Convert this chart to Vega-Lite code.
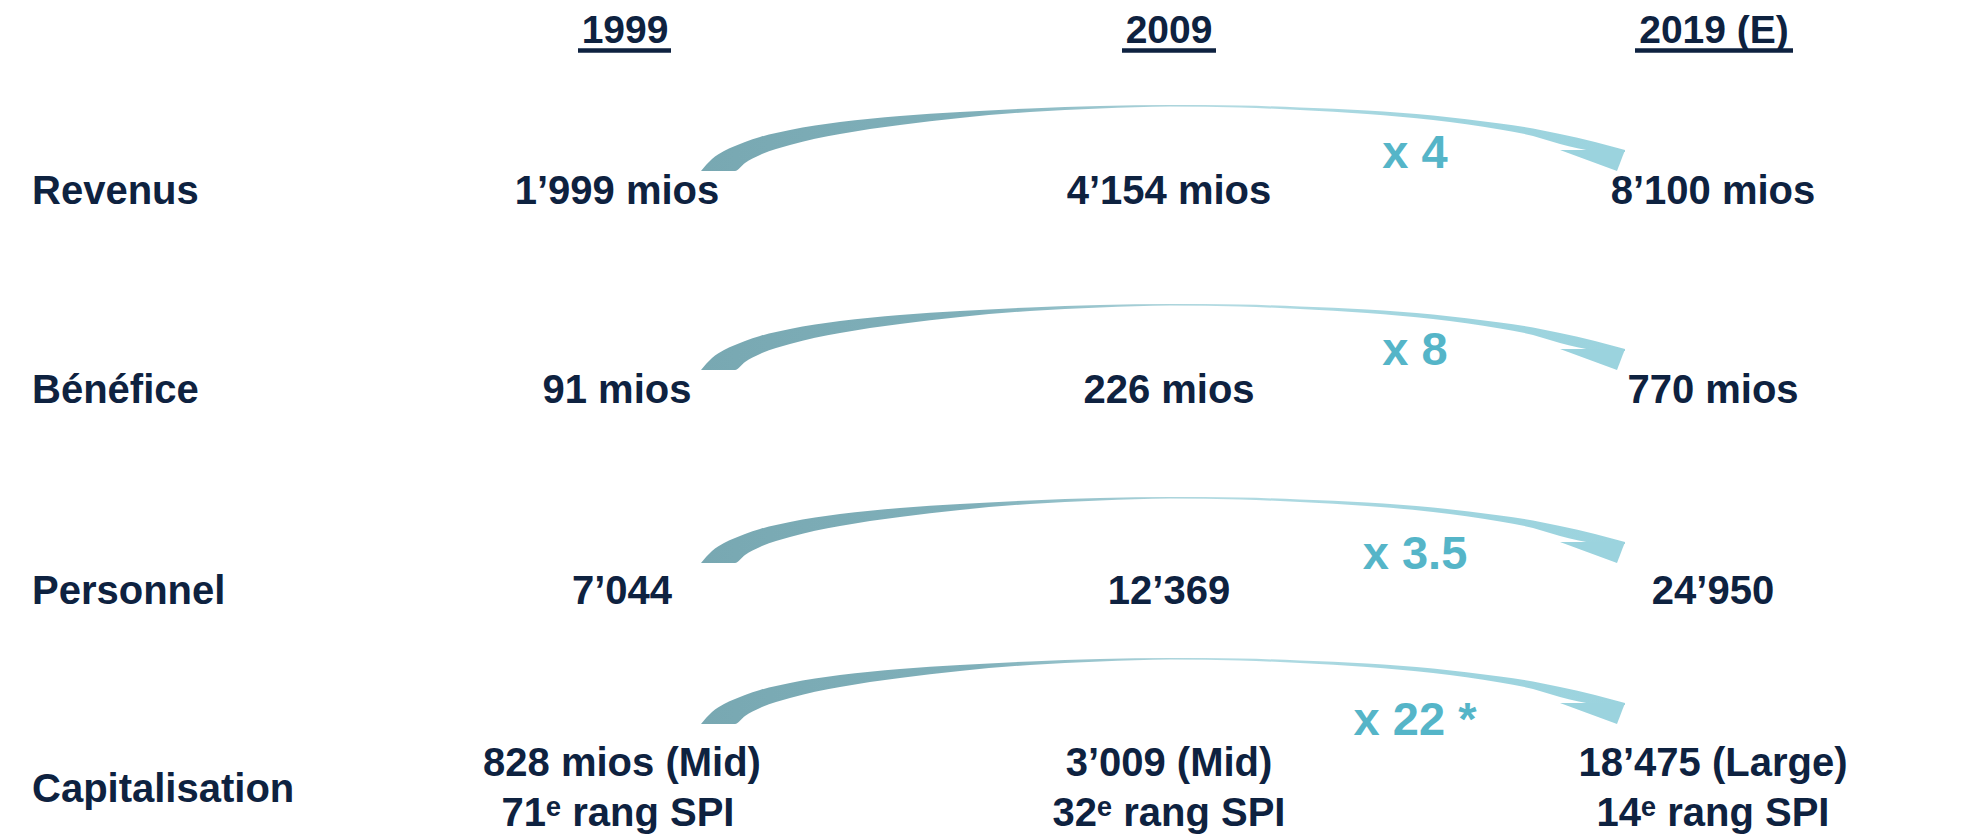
{
  "$schema": "https://vega.github.io/schema/vega-lite/v6.json",
  "width": 1986,
  "height": 834,
  "padding": 0,
  "autosize": {"type": "none"},
  "background": "white",
  "config": {"view": {"stroke": null}},
  "datasets": {
    "headers": [
      {"year": "1999", "x": 625, "y": 43, "u1": 578, "u2": 671, "uy": 50.5},
      {"year": "2009", "x": 1169, "y": 43, "u1": 1122, "u2": 1216, "uy": 50.5},
      {"year": "2019 (E)", "x": 1714, "y": 43, "u1": 1635, "u2": 1793, "uy": 50.5}
    ],
    "labels": [
      {"label": "Revenus", "x": 32, "y": 204},
      {"label": "Bénéfice", "x": 32, "y": 403},
      {"label": "Personnel", "x": 32, "y": 604},
      {"label": "Capitalisation", "x": 32, "y": 802}
    ],
    "values": [
      {"metric": "Revenus", "year": "1999", "text": "1’999 mios", "x": 617, "y": 204},
      {"metric": "Revenus", "year": "2009", "text": "4’154 mios", "x": 1169, "y": 204},
      {"metric": "Revenus", "year": "2019 (E)", "text": "8’100 mios", "x": 1713, "y": 204},
      {"metric": "Bénéfice", "year": "1999", "text": "91 mios", "x": 617, "y": 403},
      {"metric": "Bénéfice", "year": "2009", "text": "226 mios", "x": 1169, "y": 403},
      {"metric": "Bénéfice", "year": "2019 (E)", "text": "770 mios", "x": 1713, "y": 403},
      {"metric": "Personnel", "year": "1999", "text": "7’044", "x": 622, "y": 604},
      {"metric": "Personnel", "year": "2009", "text": "12’369", "x": 1169, "y": 604},
      {"metric": "Personnel", "year": "2019 (E)", "text": "24’950", "x": 1713, "y": 604},
      {"metric": "Capitalisation", "year": "1999", "text": "828 mios (Mid)", "x": 622, "y": 776},
      {"metric": "Capitalisation", "year": "2009", "text": "3’009 (Mid)", "x": 1169, "y": 776},
      {"metric": "Capitalisation", "year": "2019 (E)", "text": "18’475 (Large)", "x": 1713, "y": 776},
      {"metric": "Capitalisation", "year": "1999", "text": "71ᵉ rang SPI", "x": 618, "y": 826},
      {"metric": "Capitalisation", "year": "2009", "text": "32ᵉ rang SPI", "x": 1169, "y": 826},
      {"metric": "Capitalisation", "year": "2019 (E)", "text": "14ᵉ rang SPI", "x": 1713, "y": 826}
    ],
    "multipliers": [
      {"metric": "Revenus", "text": "x 4", "x": 1415, "y": 168},
      {"metric": "Bénéfice", "text": "x 8", "x": 1415, "y": 365},
      {"metric": "Personnel", "text": "x 3.5", "x": 1415, "y": 569},
      {"metric": "Capitalisation", "text": "x 22 *", "x": 1415, "y": 735}
    ],
    "shaft": [
      {"arrow": "Revenus", "x": 701, "top": 171, "bot": 171},
      {"arrow": "Revenus", "x": 712, "top": 159, "bot": 171},
      {"arrow": "Revenus", "x": 724, "top": 151, "bot": 171},
      {"arrow": "Revenus", "x": 735, "top": 146, "bot": 171},
      {"arrow": "Revenus", "x": 745, "top": 142, "bot": 163},
      {"arrow": "Revenus", "x": 760, "top": 137, "bot": 155},
      {"arrow": "Revenus", "x": 790, "top": 130, "bot": 145},
      {"arrow": "Revenus", "x": 840, "top": 122, "bot": 134},
      {"arrow": "Revenus", "x": 900, "top": 116, "bot": 125},
      {"arrow": "Revenus", "x": 960, "top": 112, "bot": 118},
      {"arrow": "Revenus", "x": 1030, "top": 108.5, "bot": 112},
      {"arrow": "Revenus", "x": 1100, "top": 106, "bot": 108.5},
      {"arrow": "Revenus", "x": 1170, "top": 105, "bot": 106.5},
      {"arrow": "Revenus", "x": 1240, "top": 105.5, "bot": 107.5},
      {"arrow": "Revenus", "x": 1300, "top": 107.5, "bot": 110},
      {"arrow": "Revenus", "x": 1367, "top": 110.5, "bot": 114},
      {"arrow": "Revenus", "x": 1433, "top": 115.5, "bot": 120},
      {"arrow": "Revenus", "x": 1500, "top": 123.5, "bot": 129.5},
      {"arrow": "Revenus", "x": 1533, "top": 128.5, "bot": 136},
      {"arrow": "Revenus", "x": 1560, "top": 134, "bot": 144},
      {"arrow": "Revenus", "x": 1595, "top": 142, "bot": 151},
      {"arrow": "Revenus", "x": 1625, "top": 150, "bot": 152},
      {"arrow": "Bénéfice", "x": 701, "top": 370, "bot": 370},
      {"arrow": "Bénéfice", "x": 712, "top": 358, "bot": 370},
      {"arrow": "Bénéfice", "x": 724, "top": 350, "bot": 370},
      {"arrow": "Bénéfice", "x": 735, "top": 345, "bot": 370},
      {"arrow": "Bénéfice", "x": 745, "top": 341, "bot": 362},
      {"arrow": "Bénéfice", "x": 760, "top": 336, "bot": 354},
      {"arrow": "Bénéfice", "x": 790, "top": 329, "bot": 344},
      {"arrow": "Bénéfice", "x": 840, "top": 321, "bot": 333},
      {"arrow": "Bénéfice", "x": 900, "top": 315, "bot": 324},
      {"arrow": "Bénéfice", "x": 960, "top": 311, "bot": 317},
      {"arrow": "Bénéfice", "x": 1030, "top": 307.5, "bot": 311},
      {"arrow": "Bénéfice", "x": 1100, "top": 305, "bot": 307.5},
      {"arrow": "Bénéfice", "x": 1170, "top": 304, "bot": 305.5},
      {"arrow": "Bénéfice", "x": 1240, "top": 304.5, "bot": 306.5},
      {"arrow": "Bénéfice", "x": 1300, "top": 306.5, "bot": 309},
      {"arrow": "Bénéfice", "x": 1367, "top": 309.5, "bot": 313},
      {"arrow": "Bénéfice", "x": 1433, "top": 314.5, "bot": 319},
      {"arrow": "Bénéfice", "x": 1500, "top": 322.5, "bot": 328.5},
      {"arrow": "Bénéfice", "x": 1533, "top": 327.5, "bot": 335},
      {"arrow": "Bénéfice", "x": 1560, "top": 333, "bot": 343},
      {"arrow": "Bénéfice", "x": 1595, "top": 341, "bot": 350},
      {"arrow": "Bénéfice", "x": 1625, "top": 349, "bot": 351},
      {"arrow": "Personnel", "x": 701, "top": 563, "bot": 563},
      {"arrow": "Personnel", "x": 712, "top": 551, "bot": 563},
      {"arrow": "Personnel", "x": 724, "top": 543, "bot": 563},
      {"arrow": "Personnel", "x": 735, "top": 538, "bot": 563},
      {"arrow": "Personnel", "x": 745, "top": 534, "bot": 555},
      {"arrow": "Personnel", "x": 760, "top": 529, "bot": 547},
      {"arrow": "Personnel", "x": 790, "top": 522, "bot": 537},
      {"arrow": "Personnel", "x": 840, "top": 514, "bot": 526},
      {"arrow": "Personnel", "x": 900, "top": 508, "bot": 517},
      {"arrow": "Personnel", "x": 960, "top": 504, "bot": 510},
      {"arrow": "Personnel", "x": 1030, "top": 500.5, "bot": 504},
      {"arrow": "Personnel", "x": 1100, "top": 498, "bot": 500.5},
      {"arrow": "Personnel", "x": 1170, "top": 497, "bot": 498.5},
      {"arrow": "Personnel", "x": 1240, "top": 497.5, "bot": 499.5},
      {"arrow": "Personnel", "x": 1300, "top": 499.5, "bot": 502},
      {"arrow": "Personnel", "x": 1367, "top": 502.5, "bot": 506},
      {"arrow": "Personnel", "x": 1433, "top": 507.5, "bot": 512},
      {"arrow": "Personnel", "x": 1500, "top": 515.5, "bot": 521.5},
      {"arrow": "Personnel", "x": 1533, "top": 520.5, "bot": 528},
      {"arrow": "Personnel", "x": 1560, "top": 526, "bot": 536},
      {"arrow": "Personnel", "x": 1595, "top": 534, "bot": 543},
      {"arrow": "Personnel", "x": 1625, "top": 542, "bot": 544},
      {"arrow": "Capitalisation", "x": 701, "top": 724, "bot": 724},
      {"arrow": "Capitalisation", "x": 712, "top": 712, "bot": 724},
      {"arrow": "Capitalisation", "x": 724, "top": 704, "bot": 724},
      {"arrow": "Capitalisation", "x": 735, "top": 699, "bot": 724},
      {"arrow": "Capitalisation", "x": 745, "top": 695, "bot": 716},
      {"arrow": "Capitalisation", "x": 760, "top": 690, "bot": 708},
      {"arrow": "Capitalisation", "x": 790, "top": 683, "bot": 698},
      {"arrow": "Capitalisation", "x": 840, "top": 675, "bot": 687},
      {"arrow": "Capitalisation", "x": 900, "top": 669, "bot": 678},
      {"arrow": "Capitalisation", "x": 960, "top": 665, "bot": 671},
      {"arrow": "Capitalisation", "x": 1030, "top": 661.5, "bot": 665},
      {"arrow": "Capitalisation", "x": 1100, "top": 659, "bot": 661.5},
      {"arrow": "Capitalisation", "x": 1170, "top": 658, "bot": 659.5},
      {"arrow": "Capitalisation", "x": 1240, "top": 658.5, "bot": 660.5},
      {"arrow": "Capitalisation", "x": 1300, "top": 660.5, "bot": 663},
      {"arrow": "Capitalisation", "x": 1367, "top": 663.5, "bot": 667},
      {"arrow": "Capitalisation", "x": 1433, "top": 668.5, "bot": 673},
      {"arrow": "Capitalisation", "x": 1500, "top": 676.5, "bot": 682.5},
      {"arrow": "Capitalisation", "x": 1533, "top": 681.5, "bot": 689},
      {"arrow": "Capitalisation", "x": 1560, "top": 687, "bot": 697},
      {"arrow": "Capitalisation", "x": 1595, "top": 695, "bot": 704},
      {"arrow": "Capitalisation", "x": 1625, "top": 703, "bot": 705}
    ],
    "head": [
      {"arrow": "Revenus", "x": 1560, "top": 150, "bot": 150},
      {"arrow": "Revenus", "x": 1617, "top": 150, "bot": 171},
      {"arrow": "Revenus", "x": 1625, "top": 150, "bot": 150},
      {"arrow": "Bénéfice", "x": 1560, "top": 349, "bot": 349},
      {"arrow": "Bénéfice", "x": 1617, "top": 349, "bot": 370},
      {"arrow": "Bénéfice", "x": 1625, "top": 349, "bot": 349},
      {"arrow": "Personnel", "x": 1560, "top": 542, "bot": 542},
      {"arrow": "Personnel", "x": 1617, "top": 542, "bot": 563},
      {"arrow": "Personnel", "x": 1625, "top": 542, "bot": 542},
      {"arrow": "Capitalisation", "x": 1560, "top": 703, "bot": 703},
      {"arrow": "Capitalisation", "x": 1617, "top": 703, "bot": 724},
      {"arrow": "Capitalisation", "x": 1625, "top": 703, "bot": 703}
    ]
  },
  "layer": [
    {
      "mark": {"type": "rule", "color": "#135A86", "strokeWidth": 5},
      "encoding": {
        "x": {"datum": 10, "type": "quantitative", "scale": {"domain": [0, 1986], "nice": false, "zero": false}, "axis": null},
        "x2": {"datum": 1986},
        "y": {"datum": 87.5, "type": "quantitative", "scale": {"domain": [0, 834], "reverse": true, "nice": false, "zero": false}, "axis": null}
      }
    },
    {
      "data": {"name": "headers"},
      "mark": {"type": "text", "font": "Liberation Sans", "fontWeight": "bold", "fontSize": 39, "color": "#0E2240", "align": "center", "baseline": "alphabetic"},
      "encoding": {
        "x": {"field": "x", "type": "quantitative", "scale": {"domain": [0, 1986], "nice": false, "zero": false}, "axis": null},
        "y": {"field": "y", "type": "quantitative", "scale": {"domain": [0, 834], "reverse": true, "nice": false, "zero": false}, "axis": null},
        "text": {"field": "year"}
      }
    },
    {
      "data": {"name": "headers"},
      "mark": {"type": "rule", "color": "#0E2240", "strokeWidth": 4.5},
      "encoding": {
        "x": {"field": "u1", "type": "quantitative", "scale": {"domain": [0, 1986], "nice": false, "zero": false}, "axis": null},
        "x2": {"field": "u2"},
        "y": {"field": "uy", "type": "quantitative", "scale": {"domain": [0, 834], "reverse": true, "nice": false, "zero": false}, "axis": null}
      }
    },
    {
      "data": {"name": "shaft"},
      "mark": {
        "type": "area",
        "interpolate": "monotone",
        "color": {"gradient": "linear", "x1": 0, "x2": 1, "y1": 0, "y2": 0, "stops": [{"offset": 0, "color": "#78A8B2"}, {"offset": 0.3, "color": "#80B0BA"}, {"offset": 0.55, "color": "#B4DBE2"}, {"offset": 0.8, "color": "#A0D5DF"}, {"offset": 1, "color": "#9BD3DE"}]}
      },
      "encoding": {
        "x": {"field": "x", "type": "quantitative", "scale": {"domain": [0, 1986], "nice": false, "zero": false}, "axis": null},
        "y": {"field": "top", "type": "quantitative", "stack": null, "scale": {"domain": [0, 834], "reverse": true, "nice": false, "zero": false}, "axis": null},
        "y2": {"field": "bot"},
        "detail": {"field": "arrow"}
      }
    },
    {
      "data": {"name": "head"},
      "mark": {"type": "area", "interpolate": "linear", "color": "#9BD3DE"},
      "encoding": {
        "x": {"field": "x", "type": "quantitative", "scale": {"domain": [0, 1986], "nice": false, "zero": false}, "axis": null},
        "y": {"field": "top", "type": "quantitative", "stack": null, "scale": {"domain": [0, 834], "reverse": true, "nice": false, "zero": false}, "axis": null},
        "y2": {"field": "bot"},
        "detail": {"field": "arrow"}
      }
    },
    {
      "data": {"name": "labels"},
      "mark": {"type": "text", "font": "Liberation Sans", "fontWeight": "bold", "fontSize": 40, "color": "#0E2240", "align": "left", "baseline": "alphabetic"},
      "encoding": {
        "x": {"field": "x", "type": "quantitative", "scale": {"domain": [0, 1986], "nice": false, "zero": false}, "axis": null},
        "y": {"field": "y", "type": "quantitative", "scale": {"domain": [0, 834], "reverse": true, "nice": false, "zero": false}, "axis": null},
        "text": {"field": "label"}
      }
    },
    {
      "data": {"name": "values"},
      "mark": {"type": "text", "font": "Liberation Sans", "fontWeight": "bold", "fontSize": 40, "color": "#0E2240", "align": "center", "baseline": "alphabetic"},
      "encoding": {
        "x": {"field": "x", "type": "quantitative", "scale": {"domain": [0, 1986], "nice": false, "zero": false}, "axis": null},
        "y": {"field": "y", "type": "quantitative", "scale": {"domain": [0, 834], "reverse": true, "nice": false, "zero": false}, "axis": null},
        "text": {"field": "text"}
      }
    },
    {
      "data": {"name": "multipliers"},
      "mark": {"type": "text", "font": "Liberation Sans", "fontWeight": "bold", "fontSize": 47, "color": "#55B5C8", "align": "center", "baseline": "alphabetic"},
      "encoding": {
        "x": {"field": "x", "type": "quantitative", "scale": {"domain": [0, 1986], "nice": false, "zero": false}, "axis": null},
        "y": {"field": "y", "type": "quantitative", "scale": {"domain": [0, 834], "reverse": true, "nice": false, "zero": false}, "axis": null},
        "text": {"field": "text"}
      }
    }
  ]
}
